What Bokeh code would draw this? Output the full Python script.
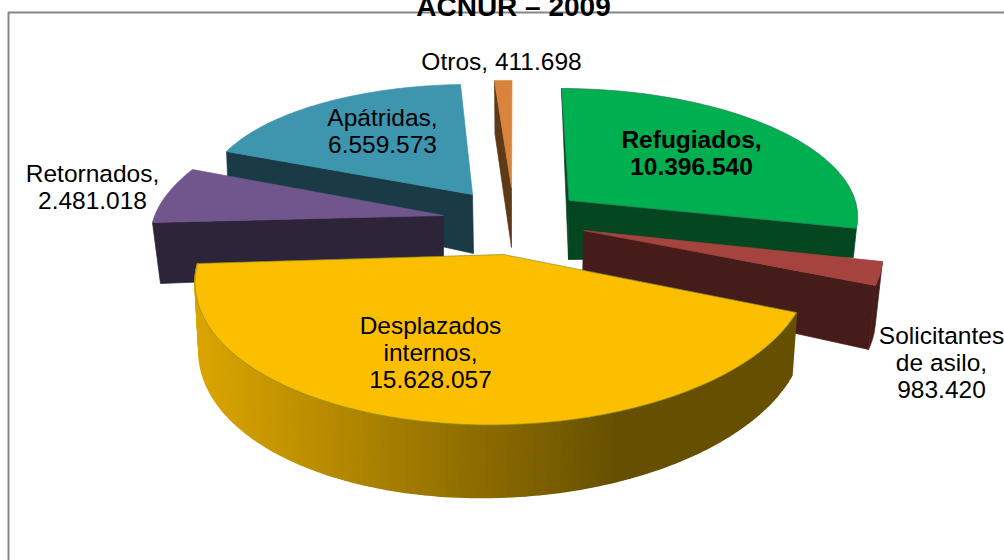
import math
from bokeh.plotting import figure
from bokeh.models import Range1d
from bokeh.core.properties import value
from bokeh.embed import file_html
from bokeh.resources import INLINE

title_text = "ACNUR – 2009"
categories = ["Refugiados", "Solicitantes de asilo", "Desplazados internos", "Retornados", "Apátridas", "Otros"]
values = [10396540, 983420, 15628057, 2481018, 6559573, 411698]
label_lines = [["Refugiados,"], ["Solicitantes", "de asilo,"], ["Desplazados", "internos,"], ["Retornados,"], ["Apátridas,"], []]
top_colors = ["#00AF50", "#A5433F", "#FBBF00", "#70568C", "#3E95AE", "#D8843C"]
wall_colors = ["#03461F", "#451C19", "#8A6C00", "#2E2439", "#1A3B45", "#5C3A18"]

# Projection of each exploded slice: top plane and bottom plane (apex, U, V), perspective k
geom = [
    dict(a=(568.5, 200), u=(286.3, 0.4), v=(-8.25, -123.2), b=(568, 259), ub=(284.4, -29.6), vb=(-5, -123), k=0.1, faces=("start", "end")),
    dict(a=(583, 230), u=(295.2, -1.4), v=(-49.8, -148), b=(582, 286), ub=(288.7, 7.2), vb=(-50, -148), k=0, faces=("rim", "end")),
    dict(a=(503, 254), u=(303.2, -0.5), v=(10.8, -144.9), b=(503, 317), ub=(299, -4), vb=(12, -153), k=0.15, faces=("grad",)),
    dict(a=(443, 215), u=(288.6, 0.35), v=(50.3, -126.4), b=(443, 272), ub=(280.6, -3.7), vb=(50, -126), k=0, faces=("start",)),
    dict(a=(472, 194), u=(266.4, 3.5), v=(6.9, -110), b=(473, 253), ub=(265.4, 15.3), vb=(6.9, -110), k=0, faces=("start",)),
    dict(a=(511, 187), u=(247, 4), v=(0.5, -107), b=(511, 247), ub=(240, 0), vb=(0.5, -114), k=0, faces=("start",)),
]
draw_order = [5, 4, 3, 0, 1, 2]
label_pos = [(691, 139), (941, 335), (430, 325), (92, 173), (382, 117), None]


def rim(g, th, bottom=False):
    s, c = math.sin(th), math.cos(th)
    a, u, v = (g["b"], g["ub"], g["vb"]) if bottom else (g["a"], g["u"], g["v"])
    w = 1 + g["k"] * c
    return (a[0] + (u[0] * s + v[0] * c) / w, a[1] + (u[1] * s + v[1] * c) / w)


def arc(g, t0, t1, bottom=False, n=60):
    return [rim(g, t0 + (t1 - t0) * i / n, bottom) for i in range(n + 1)]


p = figure(width=1012, height=568, x_range=Range1d(-8, 1004), y_range=Range1d(560, -8),
           output_backend="svg", toolbar_location=None, min_border=0,
           x_axis_location=None, y_axis_location=None, outline_line_color=None)
p.grid.visible = False
p.margin = (-8, 0, 0, -8)

# chart frame
p.line([8, 8, 1004], [560, 12, 12], line_color="#868686", line_width=2)


def poly(pts, color, line=None, lw=0.7):
    p.patch([q[0] for q in pts], [q[1] for q in pts], fill_color=color,
            line_color=line or color, line_width=lw)


total = sum(values)
angles = [0.0]
for val in values:
    angles.append(angles[-1] + 2 * math.pi * val / total)

for i in draw_order:
    g = geom[i]
    t0, t1 = angles[i], angles[i + 1]
    for face in g["faces"]:
        if face == "rim":
            poly(arc(g, t0, t1) + arc(g, t1, t0, True), wall_colors[i])
        elif face == "start":
            poly([g["a"], rim(g, t0), rim(g, t0, True), g["b"]], wall_colors[i])
        elif face == "end":
            poly([g["a"], rim(g, t1), rim(g, t1, True), g["b"]], wall_colors[i])
        elif face == "grad":
            n = 140
            for j in range(n):
                a0 = t0 + (t1 - t0) * j / n
                a1 = t0 + (t1 - t0) * (j + 1) / n
                x = rim(g, (a0 + a1) / 2)[0]
                f = min(max((x - 205) / 415, 0), 1)
                col = "#%02x%02x00" % (int(217 + (102 - 217) * f), int(164 + (80 - 164) * f))
                poly([rim(g, a0), rim(g, a1), rim(g, a1, True), rim(g, a0, True)], col, lw=1.5)
    top = [g["a"]] + arc(g, t0, t1)
    edge = {2: "#8A8F20", 0: "#1F7A5A"}.get(i, top_colors[i])
    poly(top, top_colors[i], edge)


def label(x, y, txt, bold=False, size="24.5px", baseline="middle"):
    p.text([x], [y], text=[txt], text_font=value("Liberation Sans"), text_font_size=size,
           text_align="center", text_baseline=baseline, text_color="#000000",
           text_font_style="bold" if bold else "normal")


def fmt(v):
    return f"{v:,}".replace(",", ".")


LINE = 27
for i, pos in enumerate(label_pos):
    if pos is None:
        continue
    lines = label_lines[i] + [fmt(values[i])]
    for k, t in enumerate(lines):
        label(pos[0], pos[1] + k * LINE, t, bold=(i == 0))
label(501, 61, f"{categories[5]}, {fmt(values[5])}")
label(513, 5.5, title_text, bold=True, size="28px", baseline="alphabetic")

open("out.html", "w").write(file_html(p, INLINE))
